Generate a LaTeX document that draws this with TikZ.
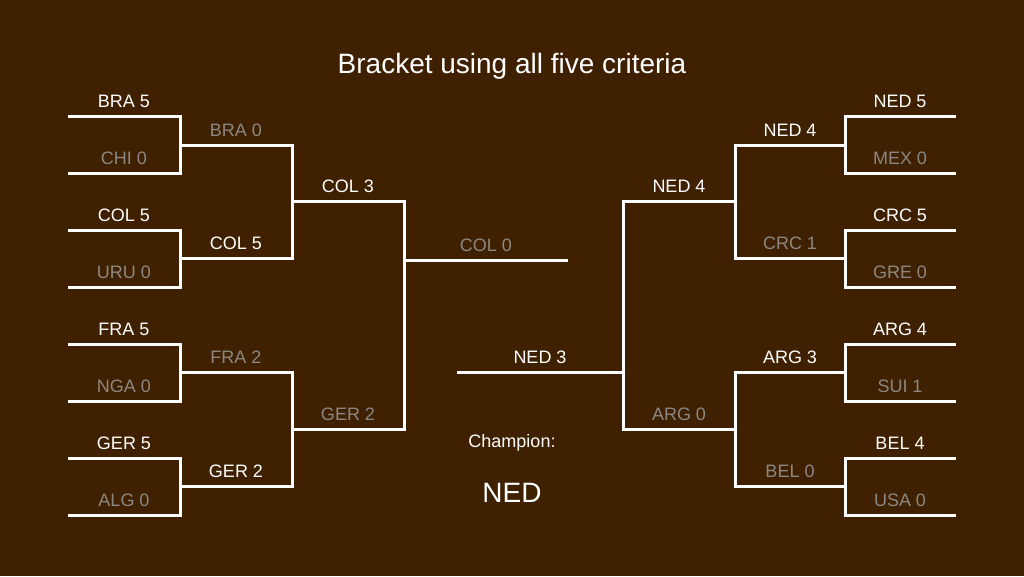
\documentclass[tikz,border=0pt]{standalone}
\usepackage{fontspec}
\setmainfont{Liberation Sans}
\definecolor{bg}{HTML}{3F2000}
\definecolor{lose}{HTML}{8C8782}
\begin{document}
\begin{tikzpicture}[x=1pt,y=-1pt,
  ln/.style={white,line width=3pt},
  w/.style={white,font=\fontsize{18}{20}\selectfont,anchor=base},
  g/.style={lose,font=\fontsize{18}{20}\selectfont,anchor=base}]
\fill[bg] (0,0) rectangle (1024,576);
\useasboundingbox (0,0) rectangle (1024,576);
\node[white,font=\fontsize{28}{30}\selectfont,anchor=base] (title) at (512,73) {Bracket using all five criteria};
% left side
\draw[ln] (68,116)--(180,116)--(180,173)--(68,173);
\draw[ln] (68,230)--(180,230)--(180,287)--(68,287);
\draw[ln] (68,344)--(180,344)--(180,401)--(68,401);
\draw[ln] (68,458)--(180,458)--(180,515)--(68,515);
\draw[ln] (180,145)--(292,145)--(292,258)--(180,258);
\draw[ln] (180,372)--(292,372)--(292,486)--(180,486);
\draw[ln] (292,201)--(404,201)--(404,429)--(292,429);
\draw[ln] (404,260)--(568,260);
% right side
\draw[ln] (956,116)--(845,116)--(845,173)--(956,173);
\draw[ln] (956,230)--(845,230)--(845,287)--(956,287);
\draw[ln] (956,344)--(845,344)--(845,401)--(956,401);
\draw[ln] (956,458)--(845,458)--(845,515)--(956,515);
\draw[ln] (845,145)--(735,145)--(735,258)--(845,258);
\draw[ln] (845,372)--(735,372)--(735,486)--(845,486);
\draw[ln] (735,201)--(623,201)--(623,429)--(735,429);
\draw[ln] (623,372)--(457,372);
% left labels
\node[w] (l1) at (124,107) {BRA 5};
\node[g] (l2) at (124,164) {CHI 0};
\node[w] (l3) at (124,221) {COL 5};
\node[g] (l4) at (124,278) {URU 0};
\node[w] (l5) at (124,335) {FRA 5};
\node[g] (l6) at (124,392) {NGA 0};
\node[w] (l7) at (124,449) {GER 5};
\node[g] (l8) at (124,506) {ALG 0};
\node[g] (m1) at (236,136) {BRA 0};
\node[w] (m2) at (236,249) {COL 5};
\node[g] (m3) at (236,363) {FRA 2};
\node[w] (m4) at (236,477) {GER 2};
\node[w] (s1) at (348,192) {COL 3};
\node[g] (s2) at (348,420) {GER 2};
\node[g] (f1) at (486,251) {COL 0};
% right labels
\node[w] (r1) at (900,107) {NED 5};
\node[g] (r2) at (900,164) {MEX 0};
\node[w] (r3) at (900,221) {CRC 5};
\node[g] (r4) at (900,278) {GRE 0};
\node[w] (r5) at (900,335) {ARG 4};
\node[g] (r6) at (900,392) {SUI 1};
\node[w] (r7) at (900,449) {BEL 4};
\node[g] (r8) at (900,506) {USA 0};
\node[w] (n1) at (790,136) {NED 4};
\node[g] (n2) at (790,249) {CRC 1};
\node[w] (n3) at (790,363) {ARG 3};
\node[g] (n4) at (790,477) {BEL 0};
\node[w] (t1) at (679,192) {NED 4};
\node[g] (t2) at (679,420) {ARG 0};
\node[w] (f2) at (540,363) {NED 3};
\node[white,font=\fontsize{18}{20}\selectfont,anchor=base] (ch) at (512,447) {Champion:};
\node[white,font=\fontsize{28}{30}\selectfont,anchor=base] (chn) at (512,502) {NED};
\end{tikzpicture}
\end{document}
